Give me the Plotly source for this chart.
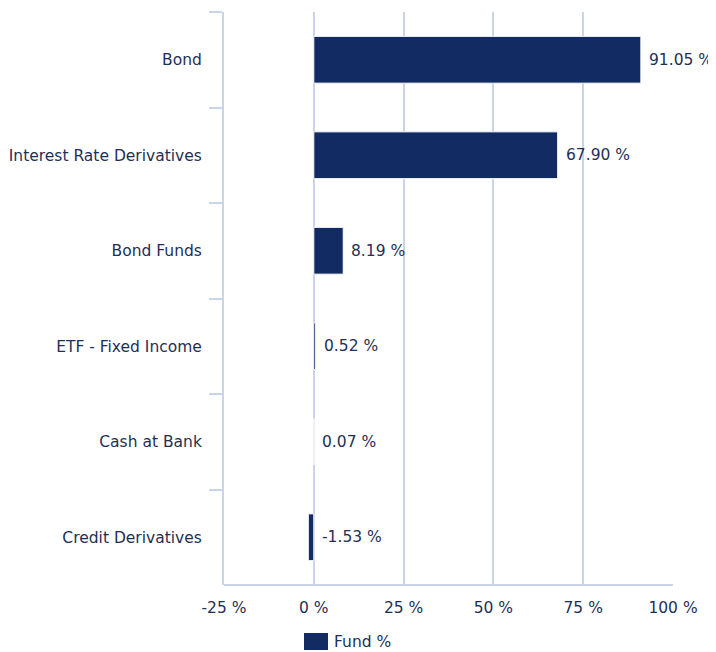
import plotly.graph_objects as go

categories = ["Bond", "Interest Rate Derivatives", "Bond Funds", "ETF - Fixed Income", "Cash at Bank", "Credit Derivatives"]
fund_values = [91.05, 67.90, 8.19, 0.52, 0.07, -1.53]
x_tickvals = [-25, 0, 25, 50, 75, 100]
x_ticktext = ["-25 %", "0 %", "25 %", "50 %", "75 %", "100 %"]
series_name = "Fund %"

TEXT = "#1f2f55"
BAR = "#122b63"
GRID = "#c9d5e6"
FONT = "DejaVu Sans"
FS = 15.5

fig = go.Figure()
fig.add_trace(go.Bar(
    y=categories, x=fund_values, orientation="h", name=series_name,
    marker=dict(color=BAR, line=dict(color="white", width=1)),
    width=0.49, showlegend=False,
))

for c, v in zip(categories, fund_values):
    fig.add_annotation(x=max(v, 0), y=c, text=f"{v:.2f} %", xanchor="left",
                       xshift=6, showarrow=False,
                       font=dict(family=FONT, size=FS, color=TEXT))

# legend swatch + label (below the plot)
fig.add_shape(type="rect", xref="paper", yref="paper",
              x0=(304 - 224) / 449, x1=(328 - 224) / 449,
              y0=-(650 - 585) / 573, y1=-(633 - 585) / 573,
              fillcolor=BAR, line=dict(width=0))
fig.add_annotation(xref="paper", yref="paper", x=(332 - 224) / 449, y=-(642 - 585) / 573,
                   text=series_name, xanchor="left", yanchor="middle", showarrow=False,
                   font=dict(family=FONT, size=FS, color=TEXT))

fig.update_layout(
    width=708, height=644,
    margin=dict(l=216, r=43, t=4, b=67),
    plot_bgcolor="white", paper_bgcolor="white",
    font=dict(family=FONT, size=FS, color=TEXT),
    showlegend=False,
    xaxis=dict(range=[-25, 100], tickvals=x_tickvals, ticktext=x_ticktext,
               showgrid=True, gridcolor=GRID, gridwidth=2, zeroline=False,
               showline=False, ticks="", tickfont=dict(size=FS), automargin=False,
               ticklabelstandoff=11),
    yaxis=dict(categoryorder="array", categoryarray=categories, autorange="reversed",
               showgrid=False, zeroline=False, showline=True, linecolor=GRID, linewidth=2,
               ticks="outside", tickson="boundaries", ticklen=13, tickcolor=GRID, tickwidth=2,
               tickfont=dict(size=FS), automargin=False, ticklabelstandoff=17),
)
fig.add_shape(type="line", xref="paper", yref="paper", x0=0, x1=1, y0=0, y1=0,
              line=dict(color=GRID, width=2), layer="below")
fig.write_html("out.html")
